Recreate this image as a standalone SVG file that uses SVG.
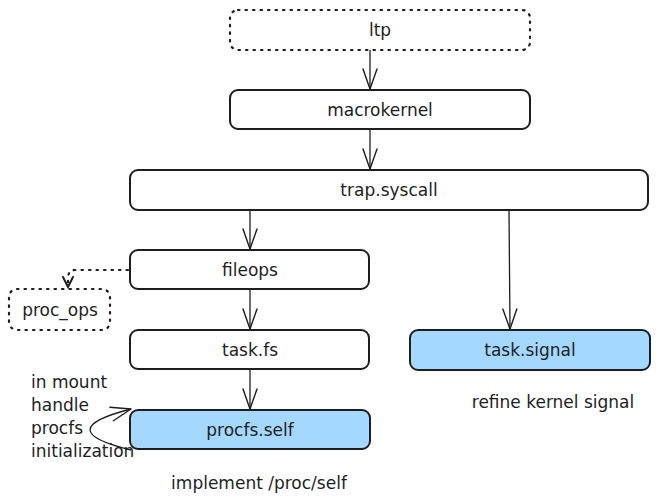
<svg xmlns="http://www.w3.org/2000/svg" width="660" height="503" viewBox="0 0 660 503">
<style>
.box{fill:#ffffff;stroke:#1e1e1e;stroke-width:2}
.blue{fill:#a5d8ff;stroke:#1e1e1e;stroke-width:2}
.dot{fill:none;stroke:#1e1e1e;stroke-width:2.2;stroke-dasharray:1.5 6;stroke-linecap:round}
.lbl{font-family:"DejaVu Sans",sans-serif;font-size:17px;fill:#1e1e1e;text-anchor:middle;dominant-baseline:central}
.note{font-family:"DejaVu Sans",sans-serif;font-size:17px;fill:#1e1e1e}
.conn{fill:none;stroke:#1e1e1e;stroke-width:1.3}
</style>
<defs>
<marker id="arr" markerUnits="userSpaceOnUse" markerWidth="30" markerHeight="30" viewBox="-25 -12 30 24" refX="0" refY="0" orient="auto">
<path d="M-20,-7 L0,0 L-20,7" fill="none" stroke="#1e1e1e" stroke-width="1.4" stroke-linecap="round" stroke-linejoin="round"/>
</marker>
<marker id="arrs" markerUnits="userSpaceOnUse" markerWidth="20" markerHeight="20" viewBox="-12 -8 14 16" refX="0" refY="0" orient="auto">
<path d="M-8,-4 L0,0 L-8,4" fill="none" stroke="#1e1e1e" stroke-width="1.6" stroke-linecap="round"/>
</marker>
</defs>
<g id="connectors">
<path class="conn" d="M370,50 L370,89" marker-end="url(#arr)"/>
<path class="conn" d="M370,130 L370,169" marker-end="url(#arr)"/>
<path class="conn" d="M250,210 L250,249" marker-end="url(#arr)"/>
<path class="conn" d="M509,210 L510,329" marker-end="url(#arr)"/>
<path class="conn" d="M250,290 L250,329" marker-end="url(#arr)"/>
<path class="conn" d="M250,370 L250,409" marker-end="url(#arr)"/>
<path class="dot" d="M128,270 L76,270 Q68,270 68,278 L68,287" marker-end="url(#arrs)"/>
<path class="conn" d="M131,450 Q49,430 131,409" marker-end="url(#arr)"/>
</g>
<g id="node-ltp">
<rect class="dot" x="230" y="10" width="300" height="40" rx="8"/>
<text class="lbl" x="380" y="30">ltp</text>
</g>
<g id="node-macrokernel">
<rect class="box" x="230" y="90" width="300" height="39" rx="8"/>
<text class="lbl" x="380" y="110">macrokernel</text>
</g>
<g id="node-trap">
<rect class="box" x="130" y="170" width="518" height="40" rx="8"/>
<text class="lbl" x="389" y="190">trap.syscall</text>
</g>
<g id="node-fileops">
<rect class="box" x="130" y="250" width="239" height="39" rx="8"/>
<text class="lbl" x="250" y="270">fileops</text>
</g>
<g id="node-proc_ops">
<rect class="dot" x="9" y="289" width="101" height="41" rx="8"/>
<text class="lbl" x="60" y="310">proc_ops</text>
</g>
<g id="node-taskfs">
<rect class="box" x="130" y="330" width="239" height="39" rx="8"/>
<text class="lbl" x="250" y="350">task.fs</text>
</g>
<g id="node-procfs">
<rect class="blue" x="130" y="410" width="240" height="39" rx="8"/>
<text class="lbl" x="250" y="430">procfs.self</text>
</g>
<g id="node-tasksignal">
<rect class="blue" x="410" y="330" width="240" height="40" rx="8"/>
<text class="lbl" x="530" y="350">task.signal</text>
</g>
<g id="notes">
<text class="note" x="31" y="388">in mount</text>
<text class="note" x="31" y="411">handle</text>
<text class="note" x="31" y="434">procfs</text>
<text class="note" x="31" y="457">initialization</text>
<text class="note" x="259" y="489" text-anchor="middle">implement /proc/self</text>
<text class="note" x="553" y="408" text-anchor="middle">refine kernel signal</text>
</g>
</svg>
